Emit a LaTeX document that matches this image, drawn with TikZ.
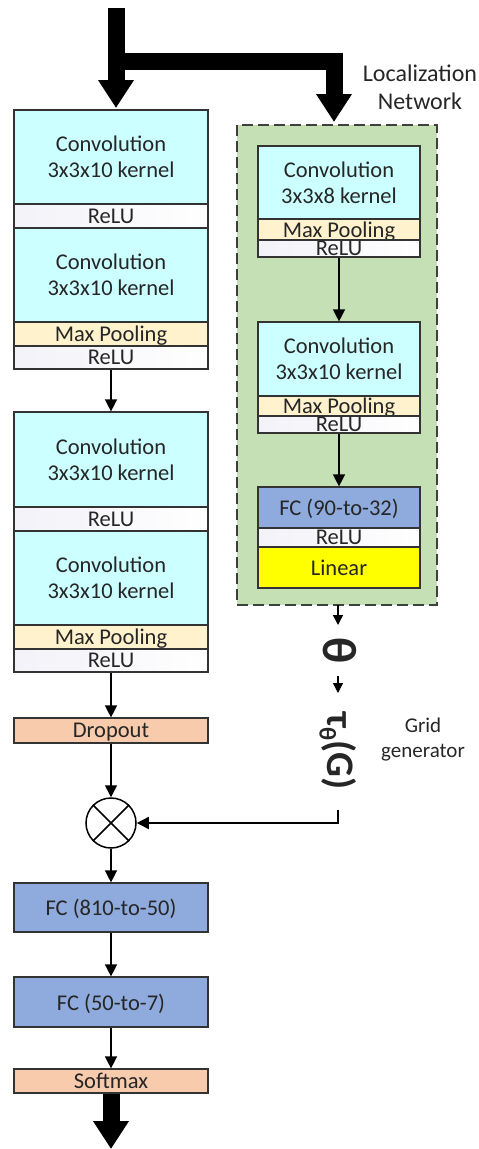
\documentclass[tikz,border=0pt]{standalone}
\usepackage{fontspec}
\setmainfont{Carlito}
\usetikzlibrary{arrows.meta}
\definecolor{convc}{HTML}{CCFFFF}
\definecolor{poolc}{HTML}{FFF2CC}
\definecolor{peach}{HTML}{F8CBAD}
\definecolor{fcc}{HTML}{8FAADC}
\definecolor{linc}{HTML}{FFFF00}
\definecolor{greenc}{HTML}{C5E0B4}
\definecolor{reluc}{HTML}{F2F2F8}
\definecolor{txt}{HTML}{262626}
\tikzset{
  box/.style={draw=black!80, line width=1.2pt, inner sep=0pt, text=txt,
    font=\fontsize{22.5}{26}\selectfont, align=center, text depth=0pt},
  lbox/.style={box, minimum width=194pt},
  rbox/.style={box, minimum width=162pt},
  conv/.style={fill=convc},
  pool/.style={fill=poolc},
  relu/.style={left color=reluc, right color=white},
  peachbox/.style={fill=peach},
  fcbox/.style={fill=fcc},
  linbox/.style={fill=linc},
  arr/.style={line width=1.4pt, -{Triangle[length=12pt,width=12pt]}},
  sarr/.style={line width=1.4pt, -{Triangle[length=10pt,width=10pt]}},
  bigarr/.style={line width=17pt, -{Triangle[length=28pt,width=34pt]}},
  bigline/.style={line width=17pt},
  lab/.style={text=txt, align=center, inner sep=0pt}
}
\begin{document}
\begin{tikzpicture}[x=1pt,y=-1pt]
\useasboundingbox (0,0) rectangle (479,1149);
% left column, group 1
\node[lbox,conv,minimum height=94pt] (c1) at (111,157) {Convolution\\3x3x10 kernel};
\node[lbox,relu,minimum height=24pt] (r1) at (111,216) {ReLU};
\node[lbox,conv,minimum height=94pt] (c2) at (111,275) {Convolution\\3x3x10 kernel};
\node[lbox,pool,minimum height=24pt] (m1) at (111,334) {Max Pooling};
\node[lbox,relu,minimum height=23pt] (r2) at (111,357.5) {ReLU};
% group 2
\node[lbox,conv,minimum height=95pt] (c3) at (111,459.5) {Convolution\\3x3x10 kernel};
\node[lbox,relu,minimum height=24pt] (r3) at (111,519) {ReLU};
\node[lbox,conv,minimum height=94pt] (c4) at (111,578) {Convolution\\3x3x10 kernel};
\node[lbox,pool,minimum height=24pt] (m2) at (111,637) {Max Pooling};
\node[lbox,relu,minimum height=23pt] (r4) at (111,660.5) {ReLU};
\node[lbox,peachbox,minimum height=25pt] (drop) at (111,730.5) {Dropout};
\node[circle,draw=black,line width=1.5pt,minimum size=50pt,inner sep=0pt] (mul) at (111,823) {};
\draw[line width=1.5pt] (mul.north west) -- (mul.south east) (mul.north east) -- (mul.south west);
\node[lbox,fcbox,minimum height=49pt] (fc1) at (111,907.5) {FC (810-to-50)};
\node[lbox,fcbox,minimum height=50pt] (fc2) at (111,1002) {FC (50-to-7)};
\node[lbox,peachbox,minimum height=24pt] (soft) at (111,1081) {Softmax};
% localization network
\node[draw=black!75, line width=1.3pt, dash pattern=on 11pt off 5pt, fill=greenc,
      minimum width=200pt, minimum height=480pt, inner sep=0pt] (loc) at (337,365) {};
\node[rbox,conv,minimum height=73pt] (lc1) at (339,182.5) {Convolution\\3x3x8 kernel};
\node[rbox,pool,minimum height=21pt] (lm1) at (339,229.5) {Max Pooling};
\node[rbox,relu,minimum height=17pt] (lr1) at (339,248.5) {ReLU};
\node[rbox,conv,minimum height=74pt] (lc2) at (339,359) {Convolution\\3x3x10 kernel};
\node[rbox,pool,minimum height=20pt] (lm2) at (339,406) {Max Pooling};
\node[rbox,relu,minimum height=17pt] (lr2) at (339,424.5) {ReLU};
\node[rbox,fcbox,minimum height=41pt] (lfc) at (339,507.5) {FC (90-to-32)};
\node[rbox,relu,minimum height=19pt] (lrelu) at (339,537.5) {ReLU};
\node[rbox,linbox,minimum height=41pt] (lin) at (339,567.5) {Linear};
\node[lab, font=\fontsize{24}{28}\selectfont] (locl) at (420,87) {Localization\\Network};
% theta and grid generator
\node[lab, font=\fontsize{48}{48}\selectfont\bfseries] (theta) at (340,651) {\rotatebox{-90}{θ}};
\node[lab, font=\fontsize{39}{39}\selectfont\bfseries] (tau) at (338,751)
  {\rotatebox{-90}{τ\raisebox{-0.2em}{\fontsize{24}{24}\selectfont θ}(G)}};
\node[lab, font=\fontsize{21}{25}\selectfont] (grid) at (423,740) {Grid\\generator};
% connectors
\coordinate (in) at (116,8);
\coordinate (out) at (111,1149);
\draw[bigarr] (in) -- (116,108);
\draw[bigline] (116,61) -- (342.5,61);
\draw[bigarr] (334,52.5) -- (334,122);
\draw[arr] (r2) -- (c3);
\draw[arr] (r4) -- (drop);
\draw[arr] (drop) -- (mul);
\draw[arr] (mul) -- (fc1);
\draw[arr] (fc1) -- (fc2);
\draw[arr] (fc2) -- (soft);
\draw[bigarr] (soft) -- (out);
\draw[arr] (lr1) -- (lc2);
\draw[arr] (lr2) -- (lfc);
\draw[sarr] (338,605) -- (338,625);
\draw[sarr] (338,676) -- (338,693);
\draw[arr] (338,810) |- (mul.east);
\end{tikzpicture}
\end{document}
